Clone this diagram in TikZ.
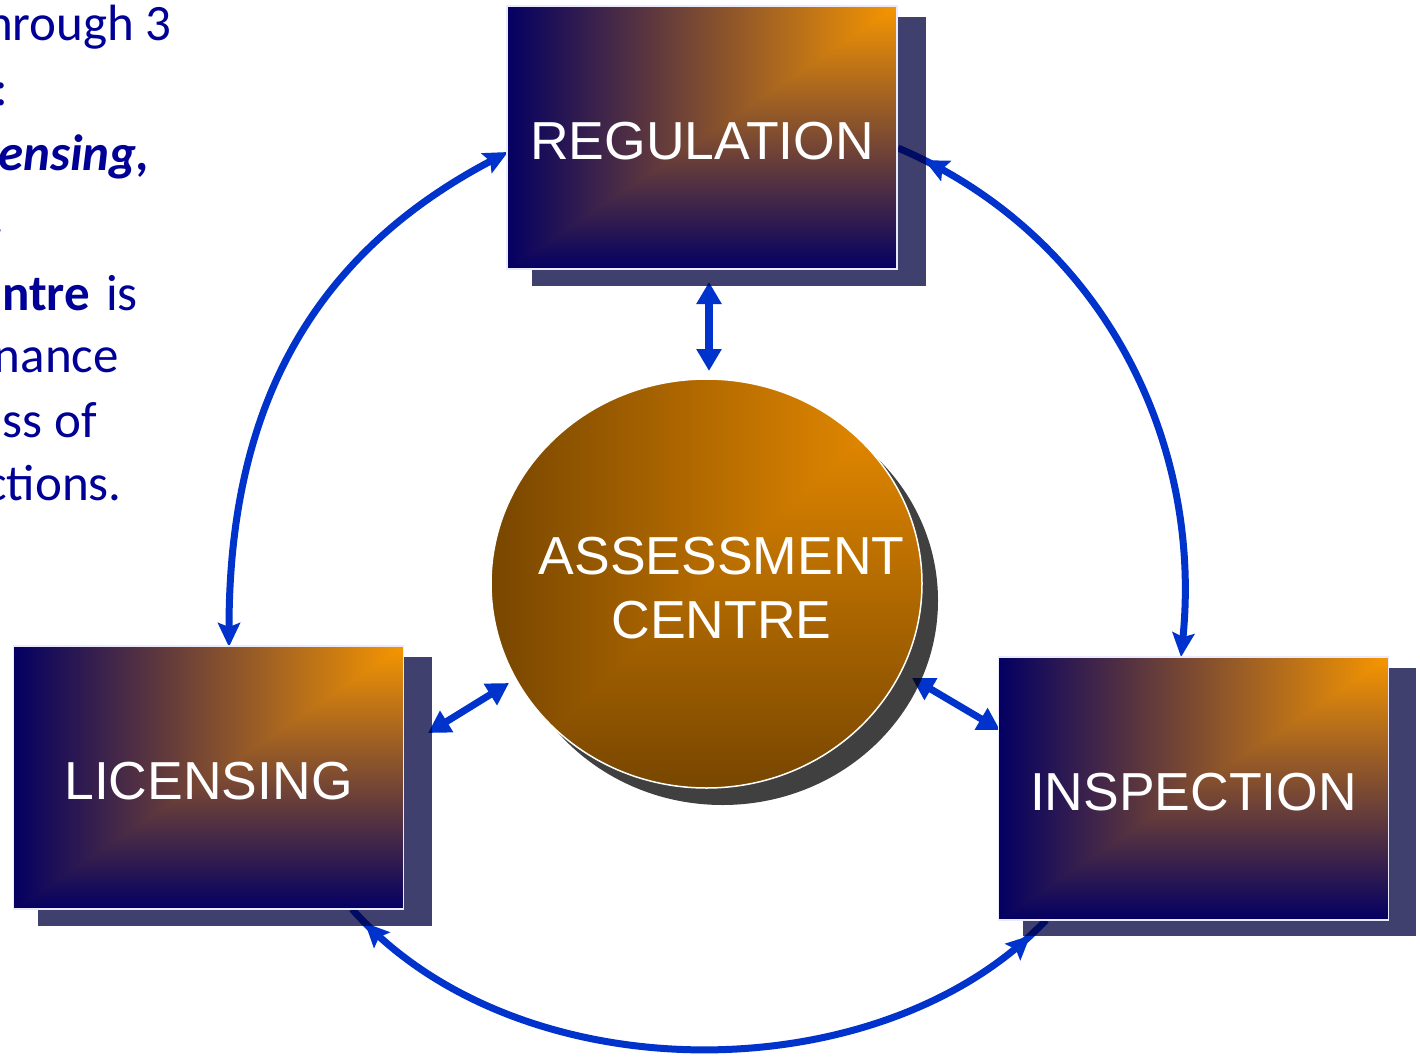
\documentclass[tikz,border=0pt]{standalone}
\usepackage{fontspec}
\setmainfont{Carlito}
\newfontfamily\arialf{Liberation Sans}
\usetikzlibrary{arrows.meta,shapes.geometric,decorations.markings}
\definecolor{navyA}{RGB}{4,0,98}
\definecolor{orangeA}{RGB}{246,150,0}
\definecolor{brownD}{RGB}{120,70,0}
\definecolor{orangeC}{RGB}{240,144,0}
\definecolor{arrowblue}{RGB}{0,51,204}
\definecolor{textblue}{RGB}{0,0,150}
\definecolor{boxshadow}{RGB}{0,0,64}
\tikzset{
  cornergrad/.style 2 args={path picture={
    \shade[left color=#2, right color=#1] (path picture bounding box.south west) rectangle (path picture bounding box.north east);
    \shade[top color=#1, bottom color=#2] (path picture bounding box.north east) -- (path picture bounding box.south east) -- (path picture bounding box.south west) -- cycle;}},
  boxnode/.style={rectangle, draw=white!92!blue, line width=1.5pt, minimum width=390pt, minimum height=263pt, inner sep=0pt,
    text height=44pt, text depth=0pt,
    cornergrad={orangeA}{navyA}, text=white, font=\arialf\fontsize{53.5pt}{60pt}\selectfont},
  circnode/.style={ellipse, draw=white, line width=1.5pt, minimum width=431pt, minimum height=409pt, inner sep=0pt,
    cornergrad={orangeC}{brownD}},
  circtext/.style={text=white, align=center, inner sep=0pt, font=\arialf\fontsize{53.5pt}{64.5pt}\selectfont},
  boxshade/.style={fill=boxshadow, fill opacity=0.75},
  circshade/.style={fill=black, fill opacity=0.75},
  arcline/.style={draw=arrowblue, line width=7pt},
  arctips/.style={{Stealth[length=24pt,width=22pt,inset=4pt]}-{Stealth[length=24pt,width=22pt,inset=4pt]}},
  endtip/.style={-{Stealth[length=24pt,width=22pt,inset=4pt]}},
  dbl/.style={draw=arrowblue, line width=8pt, {Triangle[length=22pt,width=24pt]}-{Triangle[length=22pt,width=24pt]}},
  lefttext/.style={text=textblue, font=\fontsize{51pt}{60pt}\selectfont, anchor=base east, inner sep=0pt}
}
\begin{document}
\begin{tikzpicture}[x=1pt,y=-1pt]
\useasboundingbox (0,0) rectangle (1420,1057);
\fill[white] (0,0) rectangle (1420,1057);

% left text (cropped)
\node[lefttext] (t1) at (172,41) {hrough 3};
\node[lefttext] (t2) at (8,105) {:};
\node[lefttext] (t3) at (150,170) {\textbf{\textit{ensing,}}};
\node[lefttext] (t4) at (5,233) {.};
\node[lefttext] (t5) at (138,310) {\textbf{ntre}\hspace{16pt}is};
\node[lefttext] (t6) at (119,372) {nance};
\node[lefttext] (t7) at (97,437) {ss of};
\node[lefttext] (t8) at (122,500) {\hbox{c}\hbox{tions.}};

% arc end points
\coordinate (la) at (508,152);
\coordinate (lb) at (229,647);
\coordinate (ra) at (898,148);
\coordinate (rb) at (1181,657);
\coordinate (ba) at (352,909);
\coordinate (bb) at (1046,920);

% big arcs
\draw[arcline, arctips] (la) .. controls (304,259) and (229,418) .. (lb);
\draw[arcline, endtip, postaction={decorate},
  decoration={markings, mark=at position 29pt with {\arrowreversed{Stealth[length=24pt,width=22pt,inset=4pt]}}}]
  (ra) .. controls (1100,234) and (1203,438) .. (rb);
\draw[arcline, postaction={decorate},
  decoration={markings,
    mark=at position 19pt with {\arrowreversed{Stealth[length=24pt,width=22pt,inset=4pt]}},
    mark=at position -22pt with {\arrow{Stealth[length=24pt,width=22pt,inset=4pt]}}}]
  (ba) .. controls (517,1096) and (882,1094) .. (bb);

% short double arrows
\coordinate (v1) at (709,282);
\coordinate (v2) at (709,371);
\coordinate (l1) at (428,733);
\coordinate (l2) at (509,683);
\coordinate (r1) at (912,678);
\coordinate (r2) at (1000,730);
\draw[dbl] (v1) -- (v2);
\draw[dbl, line width=7pt] (l1) -- (l2);
\draw[dbl, line width=7pt] (r1) -- (r2);

% shadows
\fill[boxshade] (532,17) rectangle (926,286);
\fill[boxshade] (38,657) rectangle (432,926);
\fill[boxshade] (1023,668) rectangle (1416,936);
\fill[circshade] (722.5,600.5) ellipse [x radius=215.5pt, y radius=204.5pt];

% main shapes
\node[boxnode] (reg) at (702,137.5) {REGULATION};
\node[boxnode] (lic) at (208.5,777.5) {LICENSING};
\node[boxnode] (insp) at (1193.5,788.5) {INSPECTION};
\node[circnode] (ac) at (706.5,583.5) {};
\node[circtext] (act) at (721.5,588) {ASSESSMENT\\CENTRE};
\end{tikzpicture}
\end{document}
